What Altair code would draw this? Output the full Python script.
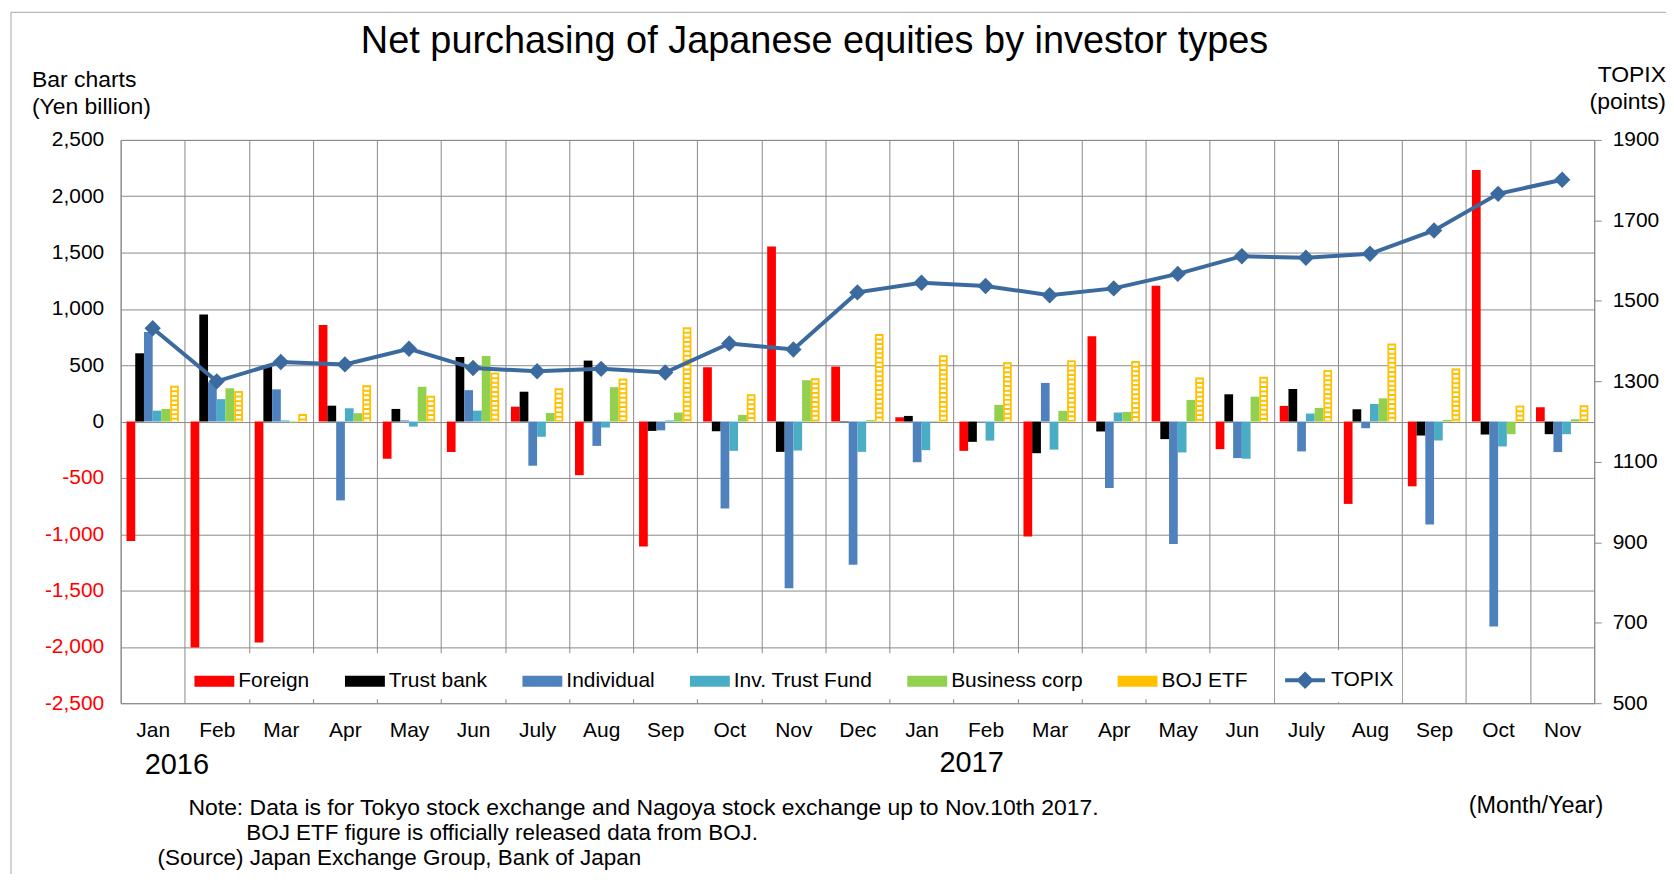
import altair as alt
import pandas as pd

# ---------------- data ----------------
months = ["Jan", "Feb", "Mar", "Apr", "May", "Jun", "July", "Aug", "Sep", "Oct", "Nov", "Dec",
          "Jan", "Feb", "Mar", "Apr", "May", "Jun", "July", "Aug", "Sep", "Oct", "Nov"]
years = [2016] * 12 + [2017] * 11

series_names = ["Foreign", "Trust bank", "Individual", "Inv. Trust Fund", "Business corp", "BOJ ETF"]
series_colors = ["#FF0000", "#000000", "#4F81BD", "#4BACC6", "#92D050", "#FFC000"]

foreign = [-1060, -2006, -1962, 858, -330, -270, 132, -476, -1109, 482, 1553, 488,
           38, -260, -1021, 758, 1206, -245, 139, -731, -575, 2233, 127]
trust_bank = [606, 950, 490, 141, 112, 573, 265, 541, -83, -86, -269, -5,
              50, -180, -281, -88, -156, 242, 289, 109, -124, -115, -112]
individual = [794, 350, 286, -700, 10, 279, -392, -216, -78, -772, -1479, -1272,
              -361, -5, 343, -590, -1086, -324, -265, -59, -914, -1820, -271]
inv_trust = [97, 199, 10, 118, -45, 97, -135, -53, 10, -260, -257, -269,
             -254, -169, -249, 80, -274, -330, 71, 156, -168, -221, -112]
business = [112, 295, -10, 74, 309, 582, 76, 305, 80, 59, 367, 12,
            5, 148, 95, 86, 192, 221, 121, 206, 15, -112, 21]
boj_etf = [318, 271, 68, 323, 229, 435, 296, 382, 837, 243, 385, 778,
           589, 527, 544, 537, 392, 398, 457, 693, 472, 142, 145]
topix = [1432, 1300, 1348, 1342, 1381, 1333, 1325, 1331, 1322, 1394, 1379, 1521,
         1545, 1537, 1514, 1531, 1567, 1611, 1607, 1617, 1675, 1766, 1801]

keys = [f"{m}|{y}" for m, y in zip(months, years)]
all_series = [foreign, trust_bank, individual, inv_trust, business, boj_etf]

rows = []
for name, vals in zip(series_names, all_series):
    for k, v in zip(keys, vals):
        rows.append({"key": k, "series": name, "value": v})
bars_df = pd.DataFrame(rows)
boj_df = bars_df[bars_df["series"] == "BOJ ETF"].copy()
boj_df["zero"] = 0
topix_df = pd.DataFrame({"key": keys, "topix": topix, "name": "TOPIX"})
one = pd.DataFrame({"a": [0]})

FONT = "Liberation Sans"
GRID = "#8A8A8A"
LINE_COLOR = "#3B6A9E"

x_scale = alt.Scale(domain=keys, paddingInner=0, paddingOuter=0)
xoff_scale = alt.Scale(domain=series_names, paddingInner=0, paddingOuter=0.67)
y_left = alt.Scale(domain=[-2500, 2500], nice=False)
y_right = alt.Scale(domain=[500, 1900], nice=False)

x_axis = alt.Axis(tickBand="extent", grid=True, gridColor=GRID, gridWidth=1, domain=False,
                  ticks=False, labelAngle=0, labelPadding=16, labelFontSize=21,
                  labelColor="#000000",
                  labelExpr="isString(datum.value) ? split(datum.value, '|')[0] : ''",
                  title=None)

left_axis = alt.Axis(values=list(range(-2500, 2501, 500)), grid=True, gridColor=GRID, gridWidth=1,
                     domain=False, ticks=False, labelPadding=17, labelFontSize=21,
                     labelColor={"condition": {"test": "datum.value < 0", "value": "#FF0000"},
                                 "value": "#000000"},
                     labelExpr="(datum.value < 0 ? '-' : '') + format(abs(datum.value), ',')",
                     title=None)

right_axis = alt.Axis(orient="right", values=list(range(500, 1901, 200)), grid=False, domain=False,
                      ticks=True, tickSize=7, tickColor=GRID, labelPadding=11, labelFontSize=21,
                      labelColor="#000000", format="d", title=None)

bar_legend = alt.Legend(orient="none", legendX=66, legendY=515, direction="horizontal", title=None,
                        symbolType="M-1,-0.28L1,-0.28L1,0.28L-1,0.28Z", symbolSize=1600,
                        symbolStrokeWidth=0, labelFontSize=21, labelFont=FONT, labelOffset=4,
                        columnPadding=35, padding=8, fillColor="white", labelColor="#000000")

line_legend = alt.Legend(orient="none", legendX=1158, legendY=512, direction="horizontal", title=None,
                         symbolType="M-1,0L1,0M-0.3,0L0,-0.3L0.3,0L0,0.3Z", symbolSize=1600,
                         symbolStrokeWidth=4, symbolFillColor=LINE_COLOR, labelFontSize=21,
                         labelFont=FONT, labelOffset=4, padding=8, fillColor="white",
                         labelColor="#000000")

frame = alt.Chart(one).mark_rect(filled=False, stroke="#A6A6A6", strokeWidth=1).encode(
    x=alt.value(-110), x2=alt.value(1600), y=alt.value(-128), y2=alt.value(800))

bars = alt.Chart(bars_df).mark_bar(strokeWidth=0).encode(
    x=alt.X("key:N", scale=x_scale, axis=x_axis, sort=keys),
    xOffset=alt.XOffset("series:N", scale=xoff_scale, sort=series_names),
    y=alt.Y("value:Q", scale=y_left, axis=left_axis),
    color=alt.Color("series:N", scale=alt.Scale(domain=series_names, range=series_colors),
                    legend=bar_legend, sort=series_names),
)

stripes = alt.Chart(boj_df).mark_rule(color="white", strokeWidth=5.2, strokeDash=[2.6, 2],
                                      strokeDashOffset=2.6).encode(
    x=alt.X("key:N", scale=x_scale, sort=keys),
    xOffset=alt.XOffset("series:N", scale=xoff_scale, sort=series_names),
    y=alt.Y("value:Q", scale=y_left, axis=None),
    y2=alt.Y2("zero:Q"),
)

line = alt.Chart(topix_df).mark_line(strokeWidth=4).encode(
    x=alt.X("key:N", scale=x_scale, sort=keys),
    y=alt.Y("topix:Q", scale=y_right, axis=right_axis),
    stroke=alt.Stroke("name:N", scale=alt.Scale(domain=["TOPIX"], range=[LINE_COLOR]),
                      legend=line_legend),
)

points = alt.Chart(topix_df).mark_point(shape="diamond", filled=True, size=270, color=LINE_COLOR,
                                        opacity=1).encode(
    x=alt.X("key:N", scale=x_scale, sort=keys),
    y=alt.Y("topix:Q", scale=y_right, axis=None),
)


def label(text, x, y, size=21, align="left"):
    return alt.Chart(one).mark_text(text=text, align=align, baseline="middle", fontSize=size,
                                    font=FONT, color="#000000").encode(
        x=alt.value(x), y=alt.value(y))


year16 = alt.Chart(pd.DataFrame({"key": [keys[0]]})).mark_text(
    text="2016", align="left", baseline="middle", dx=-8, fontSize=29, font=FONT, color="#000000"
).encode(x=alt.X("key:N", scale=x_scale, sort=keys), y=alt.value(627))

year17 = alt.Chart(pd.DataFrame({"key": [keys[12]]})).mark_text(
    text="2017", align="left", baseline="middle", dx=18, fontSize=29, font=FONT, color="#000000"
).encode(x=alt.X("key:N", scale=x_scale, sort=keys), y=alt.value(625))

texts = [
    label("Net purchasing of Japanese equities by investor types", 696, -98, size=38, align="center"),
    label("Bar charts", -89, -60, size=23),
    label("(Yen billion)", -89, -33, size=23),
    label("TOPIX", 1550, -65, size=23, align="right"),
    label("(points)", 1550, -38, size=23, align="right"),
    label("Note: Data is for Tokyo stock exchange and Nagoya stock exchange up to Nov.10th 2017.",
          68, 670, size=23),
    label("BOJ ETF figure is officially released data from BOJ.", 126, 695, size=22.5),
    label("(Source) Japan Exchange Group, Bank of Japan", 37, 720, size=22.5),
    label("(Month/Year)", 1487, 668, size=23.5, align="right"),
]

chart = alt.layer(frame, bars, stripes, line, points, year16, year17, *texts).resolve_scale(
    y="independent"
).properties(
    width=1478, height=565,
    autosize=alt.AutoSizeParams(type="none"),
    padding={"left": 113, "top": 131, "right": 72, "bottom": 170},
).configure(font=FONT).configure_view(stroke=GRID, strokeWidth=1)

chart.save("out.html", embed_options={"renderer": "svg", "actions": False})
